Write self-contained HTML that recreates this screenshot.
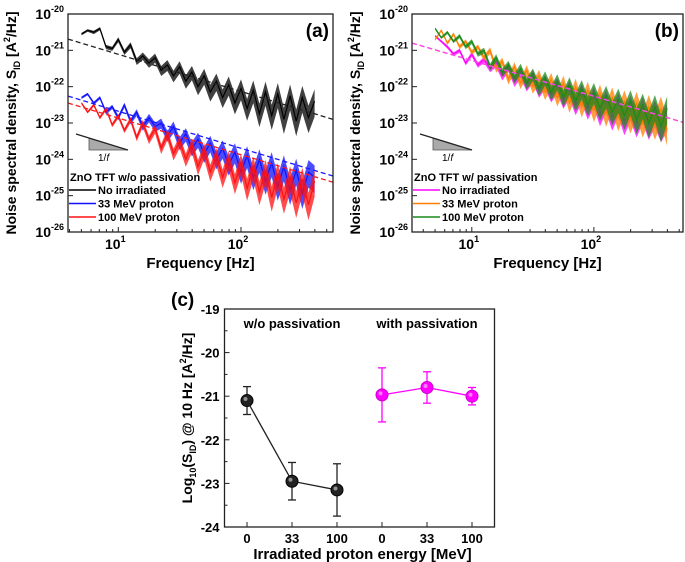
<!DOCTYPE html>
<html><head><meta charset="utf-8"><style>
body{margin:0;background:#fff;}
svg{display:block;font-family:"Liberation Sans",Arial,sans-serif;font-weight:bold;}
</style></head><body>
<svg id="fig" width="685" height="562" viewBox="0 0 685 562"></svg>
<script>
const freqLog=[0.70,0.75,0.80,0.85,0.90,0.95,1.00,1.05,1.10,1.15,1.20,1.25,1.30,1.35,1.40,1.45,1.50,1.55,1.60,1.65,1.70,1.75,1.80,1.85,1.90,1.95,2.00,2.05,2.10,2.15,2.20,2.25,2.30,2.35,2.40,2.45,2.50,2.55,2.60];
const aBlack=[-20.55,-20.45,-20.5,-20.4,-20.9,-20.95,-20.7,-21.05,-20.85,-21.3,-21.15,-21.35,-21.2,-21.55,-21.4,-21.7,-21.45,-21.85,-21.6,-22.0,-21.7,-22.15,-21.85,-22.3,-21.95,-22.45,-22.05,-22.6,-22.1,-22.75,-22.15,-22.8,-22.2,-22.9,-22.25,-22.95,-22.3,-22.85,-22.4];
const aBlue=[-22.3,-22.2,-22.45,-22.3,-22.7,-22.55,-22.85,-22.5,-22.95,-22.7,-23.1,-22.85,-23.1,-23.0,-23.35,-23.1,-23.55,-23.3,-23.7,-23.45,-23.85,-23.55,-24.0,-23.7,-24.15,-23.8,-24.35,-23.9,-24.5,-24.0,-24.6,-24.1,-24.75,-24.2,-24.85,-24.3,-24.95,-24.35,-24.5];
const aRed=[-22.45,-22.7,-22.5,-22.85,-22.6,-23.05,-22.8,-23.2,-22.9,-23.4,-23.0,-23.45,-23.15,-23.7,-23.3,-23.85,-23.5,-24.0,-23.6,-24.2,-23.75,-24.35,-23.9,-24.5,-24.0,-24.65,-24.1,-24.8,-24.2,-24.9,-24.3,-25.05,-24.4,-25.1,-24.5,-25.2,-24.55,-25.25,-24.6];
const bMagenta=[-20.6,-20.75,-20.9,-21.1,-21.0,-21.35,-21.1,-21.4,-21.25,-21.5,-21.35,-21.7,-21.45,-21.85,-21.6,-21.95,-21.7,-22.1,-21.85,-22.2,-21.95,-22.35,-22.05,-22.5,-22.15,-22.6,-22.25,-22.75,-22.35,-22.85,-22.45,-22.95,-22.55,-23.0,-22.6,-23.05,-22.7,-23.1,-22.8];
const bOrange=[-20.7,-20.45,-20.8,-20.55,-20.9,-20.75,-21.05,-20.9,-21.2,-21.0,-21.5,-21.3,-21.8,-21.45,-21.9,-21.55,-22.0,-21.7,-22.15,-21.8,-22.3,-21.9,-22.45,-22.0,-22.55,-22.1,-22.65,-22.2,-22.75,-22.3,-22.85,-22.4,-22.9,-22.45,-23.0,-22.55,-23.05,-22.6,-23.2];
const bGreen=[-20.4,-20.65,-20.5,-20.75,-20.6,-20.9,-20.75,-21.1,-21.0,-21.45,-21.2,-21.6,-21.4,-21.75,-21.5,-21.9,-21.65,-22.05,-21.75,-22.15,-21.85,-22.3,-21.95,-22.4,-22.05,-22.5,-22.15,-22.6,-22.25,-22.7,-22.35,-22.8,-22.4,-22.9,-22.5,-23.0,-22.55,-23.1,-22.6];
// noise band half-width (log units) at each frequency, both panels
const noiseSpread=[0.03,0.03,0.04,0.04,0.05,0.05,0.06,0.06,0.07,0.08,0.09,0.10,0.11,0.12,0.13,0.14,0.15,0.16,0.17,0.18,0.19,0.20,0.21,0.22,0.23,0.24,0.25,0.26,0.27,0.28,0.29,0.30,0.30,0.31,0.31,0.32,0.32,0.33,0.33];
const aFits=[[0.59,-20.69,2.75,-22.9],[0.59,-22.26,2.75,-24.46],[0.59,-22.45,2.75,-24.63]];
const bFits=[[0.51,-20.8,2.73,-22.98],[0.51,-20.8,2.73,-22.98]];
const yDecades=[-20,-21,-22,-23,-24,-25,-26];
const xDecades=[1,2];
const cCats=["0","33","100","0","33","100"];
const cVals=[-21.1,-22.95,-23.15,-20.97,-20.8,-21.0];
const cErr=[0.32,0.43,0.6,0.62,0.36,0.2];
const cTicks=[-19,-20,-21,-22,-23,-24];

const svg=document.getElementById('fig');
const NS='http://www.w3.org/2000/svg';
function mk(tag,attrs,parent){const e=document.createElementNS(NS,tag);for(const k in attrs)e.setAttribute(k,attrs[k]);(parent||svg).appendChild(e);return e;}

function spectrum(P){
  const g=mk('g',{});
  
  
  const X=l=>P.x0+(l-P.lx0)/(P.lx1-P.lx0)*(P.x1-P.x0);
  const Y=v=>P.y0+(-20-v)/6*(P.y1-P.y0);
  P.series.forEach((s,si)=>{
    const up=freqLog.map((f,i)=>X(f).toFixed(1)+','+Y(s.vals[i]+noiseSpread[i]).toFixed(1));
    const dn=freqLog.map((f,i)=>X(f).toFixed(1)+','+Y(s.vals[i]-noiseSpread[i]*1.3).toFixed(1)).reverse();
    const band=mk('polygon',{points:up.concat(dn).join(' '),fill:s.color,opacity:0.75},g);
    
    
    const pts=freqLog.map((f,i)=>X(f).toFixed(1)+','+Y(s.vals[i]).toFixed(1)).join(' ');
    const pl=mk('polyline',{points:pts,fill:'none',stroke:s.color,'stroke-width':1.2},g);
    
    
  });
  P.fits.forEach((f,i)=>{
    const ln=mk('line',{x1:X(f[0]),y1:Y(f[1]),x2:X(f[2]),y2:Y(f[3]),stroke:P.fitColors[i],'stroke-width':1.3,'stroke-dasharray':P.dash},g);
    
    
  });
  const box=mk('rect',{x:P.x0,y:P.y0,width:P.x1-P.x0,height:P.y1-P.y0,fill:'none',stroke:'#222','stroke-width':1.3},g);
  
  
  yDecades.forEach(d=>{
    const y=Y(d);
    mk('line',{x1:P.x0,y1:y,x2:P.x0+5,y2:y,stroke:'#222'},g);
    const t=mk('text',{x:P.x0-4,y:y+5,'text-anchor':'end','font-size':14},g);
    t.textContent='10';
    const sp=mk('tspan',{dy:-7,'font-size':9},t);sp.textContent=String(d);
    
    
  });
  xDecades.forEach(d=>{
    const x=X(d);
    mk('line',{x1:x,y1:P.y1,x2:x,y2:P.y1-5,stroke:'#222'},g);
    const t=mk('text',{x:x-3,y:P.y1+17,'text-anchor':'middle','font-size':14},g);
    t.textContent='10';
    const sp=mk('tspan',{dy:-7,'font-size':9},t);sp.textContent=String(d);
    
    
  });
  for(let d=0;d<3;d++)for(let m=2;m<10;m++){const l=d+Math.log10(m);if(l>P.lx0&&l<P.lx1){const x=X(l);mk('line',{x1:x,y1:P.y1,x2:x,y2:P.y1-3,stroke:'#222'},g);}}
  const xl=mk('text',{x:(P.x0+P.x1)/2,y:268,'text-anchor':'middle','font-size':15},g);
  xl.textContent='Frequency [Hz]';
  
  
  const yl=mk('text',{transform:`translate(${P.ylx},123) rotate(-90)`,'text-anchor':'middle','font-size':14},g);
  yl.innerHTML='Noise spectral density, S<tspan dy="4" font-size="9">ID</tspan><tspan dy="-4"> [A</tspan><tspan dy="-6" font-size="9">2</tspan><tspan dy="6">/Hz]</tspan>';
  
  
  const pl=mk('text',{x:P.x1-4,y:P.y0+23,'text-anchor':'end','font-size':19},g);
  pl.textContent=P.label;
  
  
  const sx=P.x0+8;
  mk('polygon',{points:`${sx+13},${138} ${sx+52},${150} ${sx+13},${150}`,fill:'#aaa',stroke:'#555','stroke-width':0.8},g);
  mk('line',{x1:sx,y1:134,x2:sx+52,y2:150,stroke:'#222','stroke-width':1.2},g);
  const ft=mk('text',{x:sx+22,y:161,'font-size':10,'font-weight':'normal'},g);
  ft.innerHTML='1/<tspan font-style="italic">f</tspan>';
  
  
  const lt=mk('text',{x:P.x0+2,y:181,'font-size':11},g);
  lt.textContent=P.legendTitle;
  
  
  P.series.forEach((s,i)=>{
    const y=194+i*13.5;
    mk('line',{x1:P.x0+1,y1:y-4,x2:P.x0+28,y2:y-4,stroke:s.color,'stroke-width':1.5},g);
    const t=mk('text',{x:P.x0+30,y:y,'font-size':11},g);
    t.textContent=s.label;
    
    
  });
}

spectrum({name:'panel-a',x0:68,x1:333,y0:14,y1:232,lx0:0.59,lx1:2.75,ylx:16,label:'(a)',dash:'5,3',
  legendTitle:'ZnO TFT w/o passivation',fits:aFits,fitColors:['#222','#1a1aff','#ff1a1a'],
  series:[{key:'no-irradiated',vals:aBlack,color:'#000',label:'No irradiated'},{key:'33mev',vals:aBlue,color:'#1010ff',label:'33 MeV proton'},{key:'100mev',vals:aRed,color:'#ff1010',label:'100 MeV proton'}]});
spectrum({name:'panel-b',x0:412,x1:683,y0:14,y1:232,lx0:0.51,lx1:2.73,ylx:360,label:'(b)',dash:'5,3',
  legendTitle:'ZnO TFT w/ passivation',fits:bFits,fitColors:['#ff8000','#ff40ff'],
  series:[{key:'no-irradiated',vals:bMagenta,color:'#ff00ff',label:'No irradiated'},{key:'33mev',vals:bOrange,color:'#ff8000',label:'33 MeV proton'},{key:'100mev',vals:bGreen,color:'#1a8a1a',label:'100 MeV proton'}]});

(function(){
  const x0=224.5,x1=494.5,y0=309,y1=527;
  const g=mk('g',{});
  
  
  const X=i=>x0+(i+0.5)/6*(x1-x0);
  const Y=v=>y0+(-19-v)/5*(y1-y0);
  const box=mk('rect',{x:x0,y:y0,width:x1-x0,height:y1-y0,fill:'none',stroke:'#222','stroke-width':1.3},g);
  
  
  cTicks.forEach(v=>{
    const y=Y(v);
    mk('line',{x1:x0,y1:y,x2:x0+5,y2:y,stroke:'#222'},g);
    if(v>-24)mk('line',{x1:x0,y1:Y(v-0.5),x2:x0+3,y2:Y(v-0.5),stroke:'#222'},g);
    const t=mk('text',{x:x0-5,y:y+5,'text-anchor':'end','font-size':13},g);
    t.textContent=String(v);
    
    
  });
  cCats.forEach((c,i)=>{
    const x=X(i);
    mk('line',{x1:x,y1:y1,x2:x,y2:y1-5,stroke:'#222'},g);
    const t=mk('text',{x:x,y:y1+16,'text-anchor':'middle','font-size':13},g);
    t.textContent=c;
    
    
  });
  [[0,3,'#222','without-passivation'],[3,6,'#ff00ff','with-passivation']].forEach(([a,b,col,nm])=>{
    const pts=[];for(let i=a;i<b;i++)pts.push(X(i)+','+Y(cVals[i]));
    const pl=mk('polyline',{points:pts.join(' '),fill:'none',stroke:col,'stroke-width':1.3},g);
    
    
    for(let i=a;i<b;i++){
      const x=X(i),yt=Y(cVals[i]+cErr[i]),yb=Y(cVals[i]-cErr[i]);
      mk('line',{x1:x,y1:yt,x2:x,y2:yb,stroke:col,'stroke-width':1.3},g);
      mk('line',{x1:x-4,y1:yt,x2:x+4,y2:yt,stroke:col,'stroke-width':1.3},g);
      mk('line',{x1:x-4,y1:yb,x2:x+4,y2:yb,stroke:col,'stroke-width':1.3},g);
      const c=mk('circle',{cx:x,cy:Y(cVals[i]),r:6,fill:col,stroke:col==='#222'?'#000':'#d000d0'},g);
      
      
      mk('circle',{cx:x-1.5,cy:Y(cVals[i])-1.5,r:2,fill:'#fff',opacity:0.5},g);
    }
  });
  const a1=mk('text',{x:X(1),y:328,'text-anchor':'middle','font-size':13},g);a1.textContent='w/o passivation';
  
  
  const a2=mk('text',{x:X(4),y:328,'text-anchor':'middle','font-size':13},g);a2.textContent='with passivation';
  
  
  const xl=mk('text',{x:(x0+x1)/2+3,y:559,'text-anchor':'middle','font-size':15},g);
  xl.textContent='Irradiated proton energy [MeV]';
  
  
  const yl=mk('text',{transform:'translate(192,418) rotate(-90)','text-anchor':'middle','font-size':14},g);
  yl.innerHTML='Log<tspan dy="4" font-size="9">10</tspan><tspan dy="-4">(S</tspan><tspan dy="4" font-size="9">ID</tspan><tspan dy="-4">) @ 10 Hz [A</tspan><tspan dy="-6" font-size="9">2</tspan><tspan dy="6">/Hz]</tspan>';
  
  
  const pl=mk('text',{x:171,y:306,'font-size':19},g);
  pl.textContent='(c)';
  
  
})();
</script>
</body></html>
